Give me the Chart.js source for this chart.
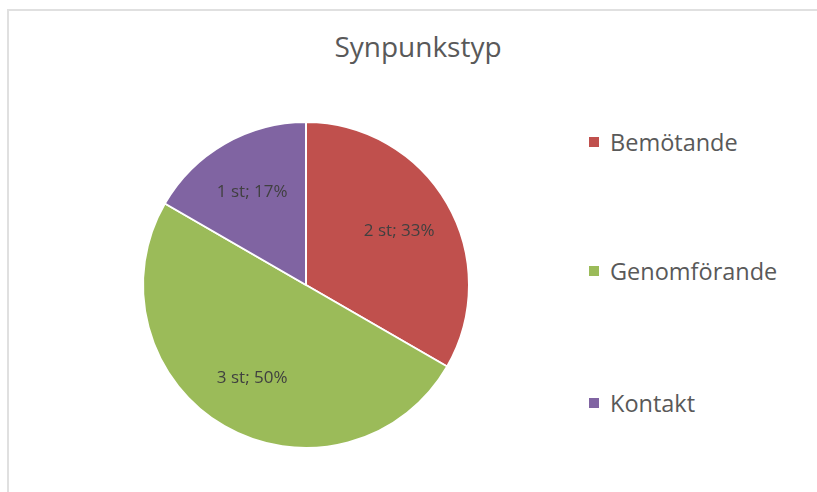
<!DOCTYPE html>
<html lang="sv">
<head>
    <meta charset="UTF-8">
    <title>Synpunkstyp</title>
    <style>
        html, body {
            margin: 0;
            padding: 0;
            background: #fff;
            width: 817px;
            height: 492px;
            overflow: hidden;
            font-family: "Open Sans", sans-serif;
        }
        .frame {
            position: absolute;
            left: 7px;
            top: 9px;
            width: 830px;
            height: 500px;
            border-top: 2px solid #e0e0e0;
            border-left: 2px solid #e0e0e0;
        }
        .title {
            position: absolute;
            left: 0;
            width: 836px;
            top: 27px;
            text-align: center;
            font-size: 28px;
            color: #595959;
        }
        .pie-box {
            position: absolute;
            left: 136px;
            top: 115px;
            width: 340px;
            height: 340px;
        }
        .legend {
            position: absolute;
            left: 589px;
            top: 0;
        }
        .legend div {
            position: absolute;
            white-space: nowrap;
            font-size: 23.5px;
            color: #595959;
            line-height: 26px;
        }
        .legend span {
            display: inline-block;
            width: 10px;
            height: 10px;
            margin-right: 11px;
            vertical-align: 4px;
        }
    </style>
</head>
<body>
    <div class="frame"></div>
    <div class="title">Synpunkstyp</div>
    <div class="pie-box">
        <canvas id="pieChart"></canvas>
    </div>
    <div class="legend" id="legend"></div>

    <script src="https://cdn.jsdelivr.net/npm/chart.js"></script>
    <script>
        // data
        const categories = ['Bemötande', 'Genomförande', 'Kontakt'];
        const counts = [2, 3, 1];
        const sliceColors = ['#C0504D', '#9BBB59', '#8064A2'];
        const legendRows = [143, 272, 404];

        // legend on the right, built from the same arrays
        const legend = document.getElementById('legend');
        categories.forEach(function(name, i) {
            const row = document.createElement('div');
            row.style.top = (legendRows[i] - 14) + 'px';
            row.innerHTML = '<span style="background:' + sliceColors[i] + '"></span>' + name;
            legend.appendChild(row);
        });

        // "2 st; 33%" labels inside the slices
        const sliceLabels = {
            id: 'sliceLabels',
            afterDatasetsDraw(chart) {
                const ctx = chart.ctx;
                const meta = chart.getDatasetMeta(0);
                const data = chart.data.datasets[0].data;
                const total = data.reduce((a, b) => a + b, 0);
                ctx.save();
                ctx.font = '17px "Open Sans", sans-serif';
                ctx.fillStyle = '#404040';
                ctx.textAlign = 'center';
                ctx.textBaseline = 'middle';
                meta.data.forEach(function(arc, i) {
                    const p = arc.getProps(['x', 'y', 'startAngle', 'endAngle', 'outerRadius']);
                    const mid = (p.startAngle + p.endAngle) / 2;
                    const r = p.outerRadius * 0.66;
                    const pct = Math.round(data[i] / total * 100);
                    ctx.fillText(data[i] + ' st; ' + pct + '%', p.x + Math.cos(mid) * r, p.y + Math.sin(mid) * r);
                });
                ctx.restore();
            }
        };

        new Chart(document.getElementById('pieChart'), {
            type: 'pie',
            data: {
                labels: categories,
                datasets: [{
                    data: counts,
                    backgroundColor: sliceColors,
                    borderColor: '#ffffff',
                    borderWidth: 2
                }]
            },
            options: {
                responsive: true,
                maintainAspectRatio: false,
                animation: false,
                layout: { padding: 6 },
                plugins: {
                    legend: { display: false },
                    tooltip: { enabled: false }
                }
            },
            plugins: [sliceLabels]
        });
    </script>
</body>
</html>
